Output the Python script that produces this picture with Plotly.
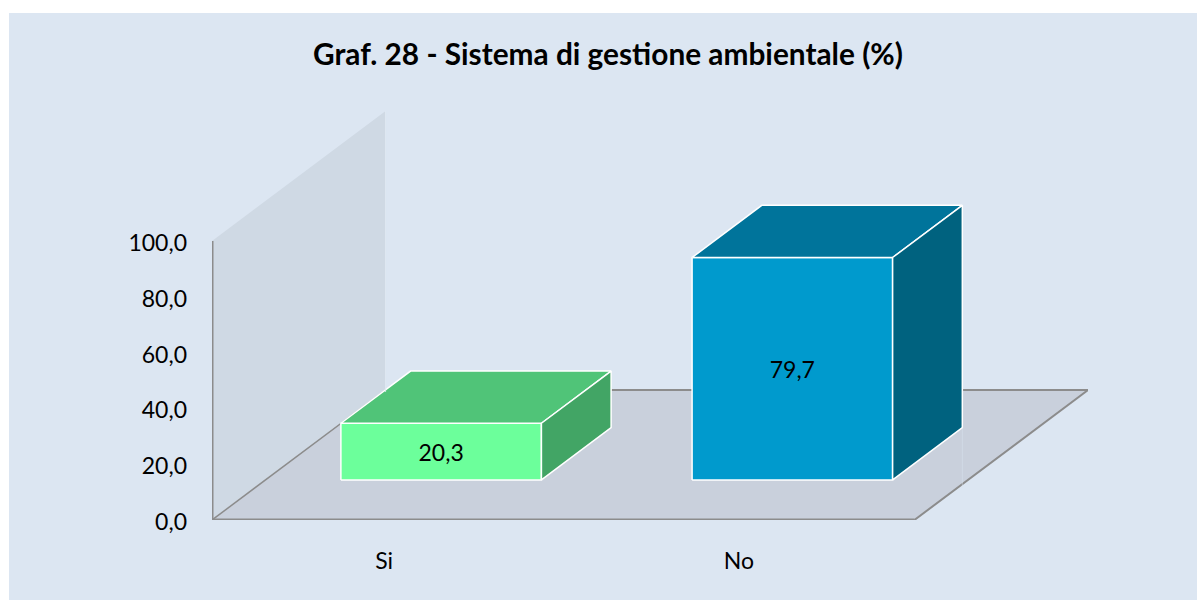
import plotly.graph_objects as go

# Data
title = "Graf. 28 - Sistema di gestione ambientale (%)"
categories = ["Si", "No"]
values = [20.3, 79.7]
y_ticks = [0, 20, 40, 60, 80, 100]
x_label_pos = [0.49, 1.5]

# Colours
BG = "#DCE6F2"
WALL = "#CFD9E4"
FLOOR = "#C9D0DC"
AXIS = "#8C8C8C"
FACE = ["#6CFF9B", "#009ACD"]
TOP = ["#50C478", "#00749B"]
SIDE = ["#42A565", "#00627F"]
FONT = "Lato"

# Oblique projection, expressed in axis units
DX, DY = 174 / 352, 129.5 / 2.78   # shift of the full chart depth
BAR_W = 0.571
D0, D1 = 0.3085, 0.71              # bar front / back depth
LABEL_NUDGE = -1.4                 # value-label baseline correction, in axis units


def proj(x, v, d):
    return x + d * DX, v + d * DY


def poly(points, fill, line=None, width=0):
    xs, ys = zip(*points)
    return go.Scatter(
        x=list(xs) + [xs[0]], y=list(ys) + [ys[0]], mode="lines", fill="toself",
        fillcolor=fill, line=dict(color=line or fill, width=width),
        hoverinfo="skip", showlegend=False, cliponaxis=False,
    )


def seg(points, color, width):
    xs, ys = zip(*points)
    return go.Scatter(x=list(xs), y=list(ys), mode="lines", line=dict(color=color, width=width),
                      hoverinfo="skip", showlegend=False, cliponaxis=False)


fig = go.Figure()
n = len(categories)
top_axis = y_ticks[-1]

# wall and floor
fig.add_trace(poly([proj(0, 0, 0), proj(0, top_axis, 0), proj(0, top_axis, 1), proj(0, 0, 1)], WALL))
fig.add_trace(poly([proj(0, 0, 0), proj(n, 0, 0), proj(n, 0, 1), proj(0, 0, 1)], FLOOR))
fig.add_trace(seg([proj(0, 0, 1), proj(n, 0, 1), proj(n, 0, 0)], AXIS, 2))
fig.add_trace(seg([proj(0, 0, 1), proj(0, 0, 0)], AXIS, 1.5))
fig.add_trace(seg([proj(0, top_axis, 0), proj(0, 0, 0), proj(n, 0, 0)], AXIS, 3))

# bars
for i, v in enumerate(values):
    a, b = i + 0.5 - BAR_W / 2, i + 0.5 + BAR_W / 2
    fig.add_trace(poly([proj(a, 0, D0), proj(b, 0, D0), proj(b, v, D0), proj(a, v, D0)], FACE[i], "white", 1.5))
    fig.add_trace(poly([proj(a, v, D0), proj(b, v, D0), proj(b, v, D1), proj(a, v, D1)], TOP[i], "white", 1.5))
    fig.add_trace(poly([proj(b, 0, D0), proj(b, 0, D1), proj(b, v, D1), proj(b, v, D0)], SIDE[i], "white", 1.5))

# thin light lines that cross the plot in the original
fig.add_trace(seg([proj(0, top_axis, 1), proj(0, -0.7, 1)], "rgba(225,233,243,0.85)", 1))
fig.add_trace(seg([proj(1.5 + BAR_W / 2, 0, D1), proj(1.5 + BAR_W / 2, -21.5, D1)], "rgba(220,230,242,0.45)", 1))

# value labels
lx, ly = zip(*[proj(i + 0.5, v / 2 + LABEL_NUDGE, D0) for i, v in enumerate(values)])
fig.add_trace(go.Scatter(
    x=list(lx), y=list(ly), mode="text",
    text=[f"{v:.1f}".replace(".", ",") for v in values],
    textposition="middle center", textfont=dict(family=FONT, size=23, color="#000000"),
    hoverinfo="skip", showlegend=False, cliponaxis=False,
))

X_END = n + DX
Y_END = top_axis + DY
W, H = 1197, 600
L, R, T, B = 212, 109, 111, 80
PW, PH = W - L - R, H - T - B
fig.update_layout(
    width=W, height=H, autosize=False,
    margin=dict(l=L, r=R, t=T, b=B, pad=0),
    paper_bgcolor="white", plot_bgcolor="rgba(0,0,0,0)",
    separators=",.",
    font=dict(family=FONT, size=23, color="#000000"),
    title=dict(text=f"<b>{title}</b>", x=608 / W, xref="container", xanchor="center",
               y=1 - 55 / H, yref="container", yanchor="middle",
               font=dict(family=FONT, size=29.8, color="#000000")),
    xaxis=dict(range=[0, X_END], showgrid=False, zeroline=False, showline=False, ticks="",
               tickmode="array", tickvals=x_label_pos, ticktext=categories,
               ticklabelstandoff=25, tickfont=dict(family=FONT, size=23)),
    yaxis=dict(range=[0, Y_END], showgrid=False, zeroline=False, showline=False, ticks="",
               tickmode="array", tickvals=y_ticks, tickformat=".1f",
               ticklabelstandoff=24, ticklabelshift=2, tickfont=dict(family=FONT, size=23)),
    shapes=[dict(type="rect", xref="paper", yref="paper", layer="below", line_width=0, fillcolor=BG,
                 x0=(9 - L) / PW, x1=(W - L) / PW,
                 y0=-B / PH, y1=(H - B - 13) / PH)],
)
fig.write_html("out.html", config={"displayModeBar": False},
               post_script="document.body.style.margin='0';document.body.style.overflow='hidden';")
